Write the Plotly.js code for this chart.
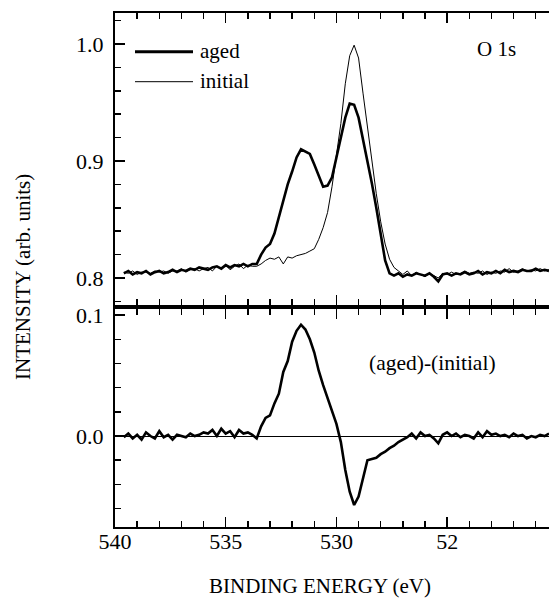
<!DOCTYPE html>
<html>
<head>
<meta charset="utf-8">
<script src="https://cdn.plot.ly/plotly-3.0.1.min.js"></script>
<style>html,body{margin:0;padding:0;background:#fff}#chart{width:549px;height:598px}</style>
</head>
<body>
<div id="chart"></div>
<script>
// Binding energy grid (eV)
const energy = [
539.6,539.4,539.2,539.0,538.8,538.6,538.4,538.2,538.0,537.8,
537.6,537.4,537.2,537.0,536.8,536.6,536.4,536.2,536.0,535.8,
535.6,535.4,535.2,535.0,534.8,534.6,534.4,534.2,534.0,533.8,
533.6,533.4,533.2,533.0,532.8,532.6,532.4,532.2,532.0,531.8,
531.6,531.4,531.2,531.0,530.8,530.6,530.4,530.2,530.0,529.8,
529.6,529.4,529.2,529.0,528.8,528.6,528.4,528.2,528.0,527.8,
527.6,527.4,527.2,527.0,526.8,526.6,526.4,526.2,526.0,525.8,
525.6,525.4,525.2,525.0,524.8,524.6,524.4,524.2,524.0,523.8,
523.6,523.4,523.2,523.0,522.8,522.6,522.4,522.2,522.0,521.8,
521.6,521.4,521.2,521.0,520.8,520.6,520.4];

// O 1s intensity, aged sample
const aged = [
0.804,0.806,0.803,0.805,0.804,0.806,0.803,0.805,0.806,0.804,
0.805,0.807,0.805,0.807,0.806,0.808,0.807,0.809,0.808,0.807,
0.809,0.810,0.808,0.811,0.809,0.811,0.810,0.812,0.810,0.812,
0.812,0.820,0.826,0.829,0.838,0.852,0.868,0.880,0.891,0.903,
0.910,0.908,0.906,0.897,0.887,0.878,0.879,0.886,0.903,0.920,
0.937,0.949,0.948,0.937,0.918,0.902,0.881,0.860,0.836,0.815,
0.804,0.802,0.804,0.801,0.803,0.802,0.804,0.803,0.802,0.804,
0.801,0.797,0.803,0.804,0.802,0.804,0.803,0.805,0.803,0.804,
0.806,0.803,0.805,0.804,0.806,0.804,0.807,0.805,0.806,0.805,
0.807,0.806,0.806,0.808,0.806,0.807,0.806];

// O 1s intensity, initial sample
const initial = [
0.805,0.804,0.806,0.803,0.805,0.805,0.804,0.806,0.805,0.806,
0.804,0.806,0.806,0.808,0.805,0.807,0.808,0.806,0.808,0.809,
0.806,0.810,0.808,0.811,0.807,0.810,0.812,0.808,0.811,0.810,
0.810,0.812,0.815,0.817,0.816,0.818,0.812,0.818,0.817,0.819,
0.820,0.821,0.823,0.825,0.833,0.843,0.856,0.878,0.905,0.932,
0.966,0.990,0.999,0.988,0.958,0.930,0.898,0.872,0.848,0.829,
0.816,0.809,0.806,0.803,0.806,0.802,0.805,0.803,0.801,0.804,
0.802,0.800,0.804,0.803,0.805,0.803,0.804,0.806,0.804,0.805,
0.804,0.806,0.803,0.805,0.804,0.806,0.805,0.808,0.805,0.806,
0.808,0.806,0.807,0.806,0.808,0.806,0.807];

// Difference spectrum (aged)-(initial)
const difference = [
-0.001,0.002,-0.002,0.001,-0.003,0.003,0.000,-0.002,0.004,-0.001,
0.001,-0.003,0.001,0.000,-0.001,0.002,0.000,0.001,0.003,0.002,
0.005,0.000,0.006,0.002,0.004,-0.001,0.005,0.002,0.003,0.001,
-0.002,0.008,0.015,0.017,0.027,0.035,0.053,0.062,0.078,0.087,
0.092,0.088,0.080,0.069,0.054,0.042,0.031,0.020,0.010,-0.005,
-0.028,-0.046,-0.057,-0.050,-0.035,-0.020,-0.019,-0.018,-0.015,-0.013,
-0.010,-0.008,-0.005,-0.003,-0.001,0.002,-0.002,0.003,0.000,0.001,
-0.002,-0.006,0.001,0.003,0.000,0.002,-0.001,0.001,0.000,-0.002,
0.003,-0.001,0.004,0.001,0.002,0.000,0.001,-0.001,0.002,0.000,
0.001,-0.002,0.000,-0.001,0.001,0.000,0.002];

const xTickVals = [540, 535, 530, 525];
const xTickText = ['540', '535', '530', '52'];
const topTickVals = [0.8, 0.9, 1.0];
const topTickText = ['0.8', '0.9', '1.0'];
const botTickVals = [0.0, 0.1];
const botTickText = ['0.0', '0.1'];

const FONT = 'Liberation Serif';

const traces = [
  {x: energy, y: initial, xaxis: 'x2', yaxis: 'y2', mode: 'lines', name: 'initial',
   line: {color: '#000', width: 1}, showlegend: false},
  {x: energy, y: aged, xaxis: 'x2', yaxis: 'y2', mode: 'lines', name: 'aged',
   line: {color: '#000', width: 2.6}, showlegend: false},
  {x: energy, y: difference, xaxis: 'x', yaxis: 'y', mode: 'lines', name: '(aged)-(initial)',
   line: {color: '#000', width: 2.6}, showlegend: false}
];

const xCommon = {
  range: [540, 520.4], showgrid: false, zeroline: false,
  showline: true, linecolor: '#000', linewidth: 2, mirror: 'ticks',
  ticks: 'inside', ticklen: 10, tickwidth: 1.5, tickcolor: '#000',
  tickmode: 'array', tickvals: xTickVals, ticktext: xTickText,
  minor: {dtick: 1, tick0: 540, ticks: 'inside', ticklen: 6, tickwidth: 1.5, tickcolor: '#000', showgrid: false},
  tickfont: {family: FONT, size: 22, color: '#000'}
};

const layout = {
  width: 549, height: 598,
  margin: {l: 115, r: 0, t: 13, b: 71, autoexpand: false},
  paper_bgcolor: '#fff', plot_bgcolor: '#fff',
  showlegend: false,
  font: {family: FONT, size: 22, color: '#000'},
  xaxis: Object.assign({}, xCommon, {anchor: 'y', domain: [0, 1], ticklabelstandoff: -6}),
  xaxis2: Object.assign({}, xCommon, {anchor: 'y2', domain: [0, 1], matches: 'x', showticklabels: false}),
  yaxis: {
    domain: [0, 0.4241], range: [-0.0752, 0.105], anchor: 'x',
    showgrid: false, zeroline: true, zerolinecolor: '#000', zerolinewidth: 1,
    showline: true, linecolor: '#000', linewidth: 2, mirror: false,
    ticks: 'inside', ticklen: 10, tickwidth: 1.5, tickcolor: '#000',
    tickmode: 'array', tickvals: botTickVals, ticktext: botTickText,
    minor: {dtick: 0.02, tick0: 0, ticks: 'inside', ticklen: 6, tickwidth: 1.5, tickcolor: '#000', showgrid: false},
    tickfont: {family: FONT, size: 22, color: '#000'}, ticklabelstandoff: 5
  },
  yaxis2: {
    domain: [0.4319, 1], range: [0.7769, 1.0265], anchor: 'x2',
    showgrid: false, zeroline: false,
    showline: true, linecolor: '#000', linewidth: 2, mirror: false,
    ticks: 'inside', ticklen: 10, tickwidth: 1.5, tickcolor: '#000',
    tickmode: 'array', tickvals: topTickVals, ticktext: topTickText,
    minor: {dtick: 0.02, tick0: 0.8, ticks: 'inside', ticklen: 6, tickwidth: 1.5, tickcolor: '#000', showgrid: false},
    tickfont: {family: FONT, size: 22, color: '#000'}, ticklabelstandoff: 5
  },
  shapes: [
    {type: 'line', xref: 'paper', yref: 'paper', x0: 20/434, x1: 78/434, y0: (527-51.7)/514, y1: (527-51.7)/514,
     line: {color: '#000', width: 3}},
    {type: 'line', xref: 'paper', yref: 'paper', x0: 20/434, x1: 78/434, y0: (527-81.7)/514, y1: (527-81.7)/514,
     line: {color: '#000', width: 1}}
  ],
  annotations: [
    {text: 'aged', xref: 'paper', yref: 'paper', x: 83/434, y: (527-51)/514, xanchor: 'left', yanchor: 'middle',
     showarrow: false, font: {family: FONT, size: 21, color: '#000'}},
    {text: 'initial', xref: 'paper', yref: 'paper', x: 83/434, y: (527-81)/514, xanchor: 'left', yanchor: 'middle',
     showarrow: false, font: {family: FONT, size: 21, color: '#000'}},
    {text: 'O 1s', xref: 'paper', yref: 'paper', x: 360/434, y: (527-49)/514, xanchor: 'left', yanchor: 'middle',
     showarrow: false, font: {family: FONT, size: 21, color: '#000'}},
    {text: '(aged)-(initial)', xref: 'paper', yref: 'paper', x: 252/434, y: (527-363)/514, xanchor: 'left', yanchor: 'middle',
     showarrow: false, font: {family: FONT, size: 21.5, color: '#000'}},
    {text: 'BINDING ENERGY (eV)', xref: 'paper', yref: 'paper', x: 205/434, y: (527-585.5)/514, xanchor: 'center', yanchor: 'middle',
     showarrow: false, font: {family: FONT, size: 21, color: '#000'}},
    {text: 'INTENSITY (arb. units)', xref: 'paper', yref: 'paper', x: (23-115)/434, y: (527-277)/514, xanchor: 'center', yanchor: 'middle',
     textangle: -90, showarrow: false, font: {family: FONT, size: 21, color: '#000'}}
  ]
};

Plotly.newPlot('chart', traces, layout, {staticPlot: true, displayModeBar: false});
</script>
</body>
</html>
